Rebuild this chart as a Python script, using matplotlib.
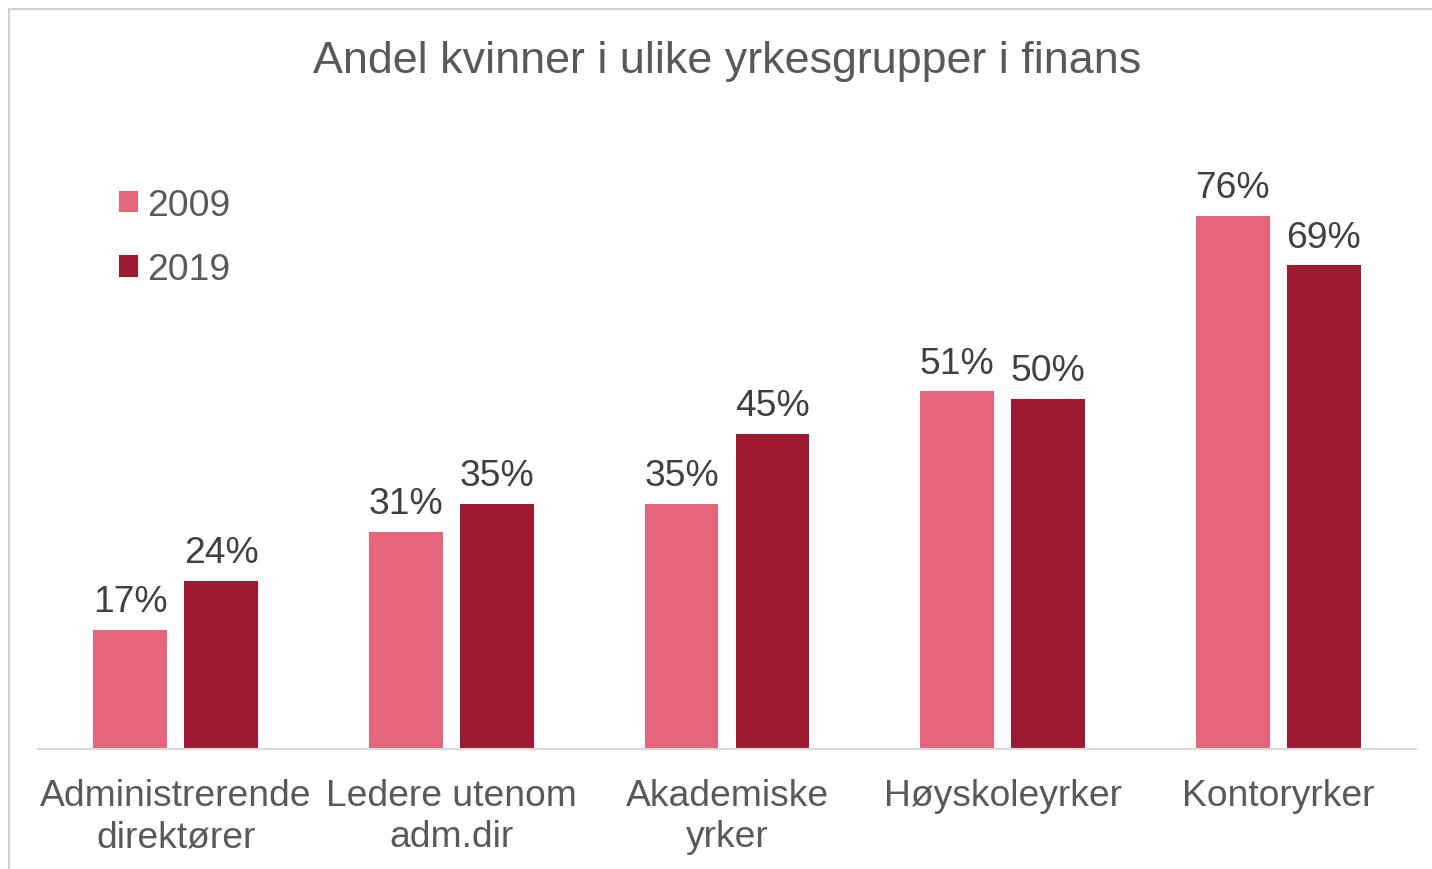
import matplotlib.pyplot as plt
from matplotlib.patches import Rectangle

plt.rcParams['font.family'] = ['Liberation Sans', 'DejaVu Sans']

categories = ['Administrerende\ndirektører', 'Ledere utenom\nadm.dir', 'Akademiske\nyrker',
              'Høyskoleyrker', 'Kontoryrker']
years = ['2009', '2019']
andel_2009 = [17, 31, 35, 51, 76]
andel_2019 = [24, 35, 45, 50, 69]

col_2009 = '#E5667A'
col_2019 = '#9E1A32'
grey_txt = '#595959'

W, H = 1432, 870
fig = plt.figure(figsize=(W / 100, H / 100), dpi=100)

# axes placed in pixel terms: baseline at y=749, 7.01 px per percent
ymax = 90
left, right, base = 38, 1416, 750
top = base - 7.01 * ymax
ax = fig.add_axes([left / W, 1 - base / H, (right - left) / W, (base - top) / H])

x = list(range(len(categories)))
bw = 0.268
off = 0.165
b1 = ax.bar([i - off for i in x], andel_2009, bw, color=col_2009, label=years[0])
b2 = ax.bar([i + off for i in x], andel_2019, bw, color=col_2019, label=years[1])

for bars, vals in ((b1, andel_2009), (b2, andel_2019)):
    for rect, v in zip(bars, vals):
        ax.annotate(f'{v}%', (rect.get_x() + rect.get_width() / 2, v),
                    xytext=(0, 13.5), textcoords='offset points',
                    ha='center', va='baseline', fontsize=26.8, color='#404040')

ax.set_xlim(-0.5, len(categories) - 0.5)
ax.set_ylim(0, ymax)
ax.set_yticks([])
ax.set_xticks(x)
ax.set_xticklabels(categories, fontsize=26.8, color=grey_txt, linespacing=1.22)
ax.tick_params(axis='x', length=0, pad=21)
for s in ['top', 'right', 'left']:
    ax.spines[s].set_visible(False)
ax.spines['bottom'].set_color('#D9D9D9')
ax.spines['bottom'].set_linewidth(1.5)
ax.patch.set_visible(False)

leg = fig.legend(loc='upper left', bbox_to_anchor=(100 / W, 1 - 170 / H),
                 frameon=False, fontsize=26.8, handlelength=0.52, handleheight=0.52,
                 handletextpad=0.25, labelspacing=0.8, borderpad=0)
for t in leg.get_texts():
    t.set_color(grey_txt)

fig.text(727 / W, 1 - 73 / H, 'Andel kvinner i ulike yrkesgrupper i finans',
         ha='center', va='baseline', fontsize=32.3, color=grey_txt)

fig.patches.append(Rectangle((9 / W, -0.1), 1.2, 1.1 - 10 / H, transform=fig.transFigure,
                             fill=False, edgecolor='#D0D0D0', linewidth=1.5))

fig.savefig('out.png', dpi=100)
